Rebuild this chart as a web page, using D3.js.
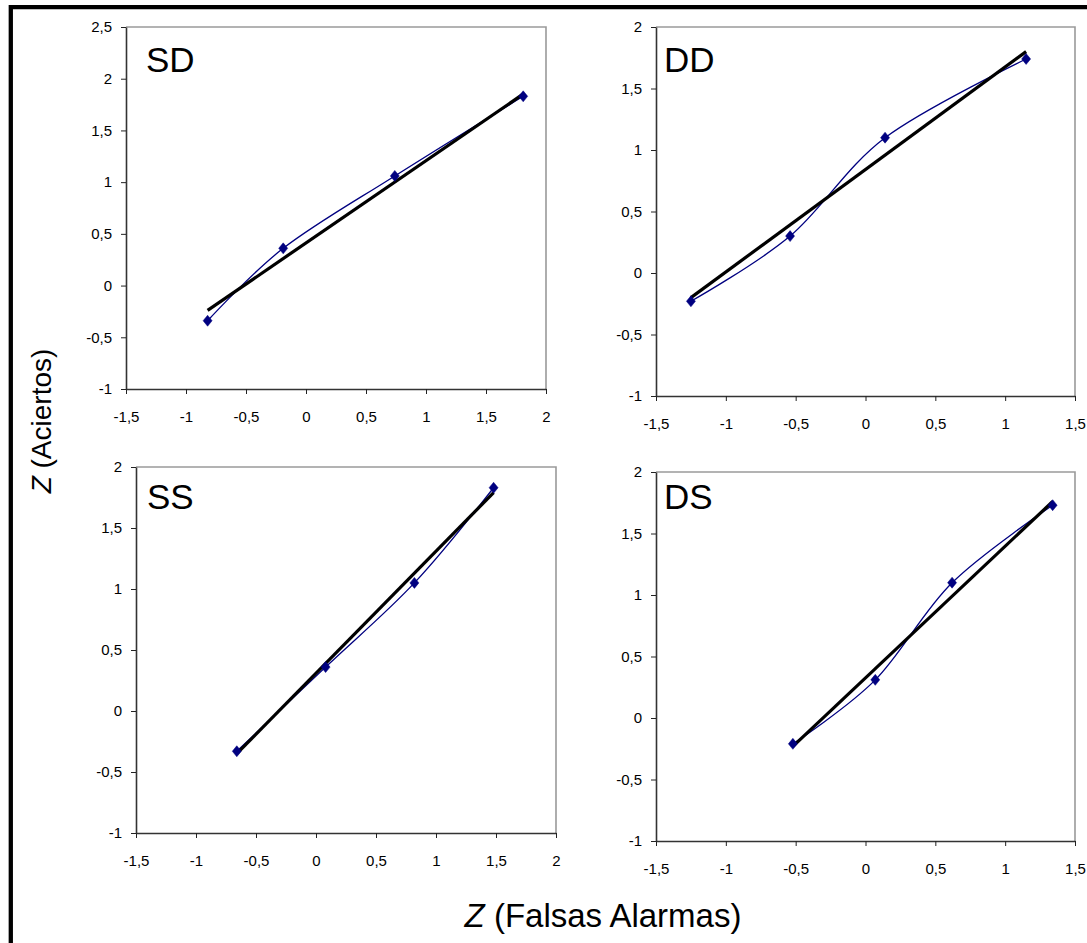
<!DOCTYPE html>
<html>
<head>
<meta charset="utf-8">
<script src="https://cdn.jsdelivr.net/npm/d3@7"></script>
<style>
  html, body { margin: 0; padding: 0; background: #fff; }
  svg { display: block; }
</style>
</head>
<body>
<div id="chart"></div>
<script>
// ---------- DATA ----------
const panelNames = ["SD", "DD", "SS", "DS"];

const sdX = [-0.82, -0.19, 0.74, 1.81];
const sdY = [-0.34, 0.36, 1.06, 1.83];
const sdFitX = [-0.82, 1.82];
const sdFitY = [-0.24, 1.86];

const ddX = [-1.25, -0.54, 0.14, 1.15];
const ddY = [-0.23, 0.30, 1.10, 1.74];
const ddFitX = [-1.25, 1.15];
const ddFitY = [-0.20, 1.80];

const ssX = [-0.66, 0.08, 0.82, 1.48];
const ssY = [-0.33, 0.36, 1.05, 1.83];
const ssFitX = [-0.66, 1.48];
const ssFitY = [-0.35, 1.79];

const dsX = [-0.52, 0.07, 0.62, 1.34];
const dsY = [-0.21, 0.31, 1.10, 1.73];
const dsFitX = [-0.52, 1.34];
const dsFitY = [-0.23, 1.76];

const xTicksWide = [-1.5, -1, -0.5, 0, 0.5, 1, 1.5, 2];
const xTicksNarrow = [-1.5, -1, -0.5, 0, 0.5, 1, 1.5];
const yTicksTall = [-1, -0.5, 0, 0.5, 1, 1.5, 2, 2.5];
const yTicksShort = [-1, -0.5, 0, 0.5, 1, 1.5, 2];

const xTitle = "(Falsas Alarmas)";
const yTitle = "(Aciertos)";

// ---------- LAYOUT ----------
const W = 1087, H = 943;
const panels = [
  { name: panelNames[0], x: sdX, y: sdY, fx: sdFitX, fy: sdFitY, xt: xTicksWide, yt: yTicksTall,
    l: 126, r: 546, t: 27, b: 389, lx: 146, ly: 72 },
  { name: panelNames[1], x: ddX, y: ddY, fx: ddFitX, fy: ddFitY, xt: xTicksNarrow, yt: yTicksShort,
    l: 656, r: 1075, t: 27, b: 396, lx: 664, ly: 72 },
  { name: panelNames[2], x: ssX, y: ssY, fx: ssFitX, fy: ssFitY, xt: xTicksWide, yt: yTicksShort,
    l: 136, r: 556, t: 467, b: 833, lx: 147, ly: 509 },
  { name: panelNames[3], x: dsX, y: dsY, fx: dsFitX, fy: dsFitY, xt: xTicksNarrow, yt: yTicksShort,
    l: 656, r: 1075, t: 472, b: 841, lx: 664, ly: 509 }
];

const fmt = d => String(d).replace(".", ",");
const tickFont = "'Liberation Sans Narrow', 'Arial Narrow', 'Liberation Sans', Arial, sans-serif";
const mainFont = "'Liberation Sans', Arial, Helvetica, sans-serif";

const svg = d3.select("#chart").append("svg")
  .attr("width", W).attr("height", H)
  .attr("viewBox", `0 0 ${W} ${H}`);

svg.append("rect").attr("width", W).attr("height", H).attr("fill", "#fff");

// outer frame (top and left visible)
svg.append("line").attr("x1", 9).attr("x2", W).attr("y1", 7.2).attr("y2", 7.2)
  .attr("stroke", "#000").attr("stroke-width", 4.3);
svg.append("line").attr("x1", 10.8).attr("x2", 10.8).attr("y1", 5).attr("y2", H)
  .attr("stroke", "#000").attr("stroke-width", 4.3);

panels.forEach(p => {
  const xS = d3.scaleLinear().domain([p.xt[0], p.xt[p.xt.length - 1]]).range([p.l, p.r]);
  const yS = d3.scaleLinear().domain([p.yt[0], p.yt[p.yt.length - 1]]).range([p.b, p.t]);
  const g = svg.append("g");

  // plot area border (top/right gray)
  g.append("path")
    .attr("d", `M${xS.range()[0]},${yS.range()[1]}H${xS.range()[1]}V${yS.range()[0]}`)
    .attr("fill", "none").attr("stroke", "#9a9a9a").attr("stroke-width", 1.6);

  // axes
  const ax = g.append("g").attr("transform", `translate(0,${p.b})`)
    .call(d3.axisBottom(xS).tickValues(p.xt).tickFormat(fmt).tickSize(5).tickSizeOuter(0).tickPadding(17));
  const ay = g.append("g").attr("transform", `translate(${p.l},0)`)
    .call(d3.axisLeft(yS).tickValues(p.yt).tickFormat(fmt).tickSize(5).tickSizeOuter(0).tickPadding(9));
  [ax, ay].forEach(a => {
    a.select(".domain").attr("stroke", "#333").attr("stroke-width", 1.6);
    a.selectAll(".tick line").attr("stroke", "#222").attr("stroke-width", 1);
    a.selectAll(".tick text").attr("fill", "#000")
      .style("font-family", tickFont).style("font-size", "15px");
  });

  // smoothed data line
  const pts = p.x.map((v, i) => [v, p.y[i]]);
  const line = d3.line().x(d => xS(d[0])).y(d => yS(d[1])).curve(d3.curveCardinal.tension(0));
  g.append("path").datum(pts).attr("d", line)
    .attr("fill", "none").attr("stroke", "#000080").attr("stroke-width", 1.3);

  // regression line
  const fit = p.fx.map((v, i) => [v, p.fy[i]]);
  g.append("path").datum(fit).attr("d", d3.line().x(d => xS(d[0])).y(d => yS(d[1])))
    .attr("fill", "none").attr("stroke", "#000").attr("stroke-width", 3.2);

  // diamond markers
  g.selectAll("path.mk").data(pts).join("path").attr("class", "mk")
    .attr("d", d => {
      const cx = xS(d[0]), cy = yS(d[1]);
      return `M${cx},${cy - 5.5}L${cx + 4.5},${cy}L${cx},${cy + 5.5}L${cx - 4.5},${cy}Z`;
    })
    .attr("fill", "#000080").attr("stroke", "#000080").attr("stroke-width", 0.5);

  // panel label
  g.append("text").attr("x", p.lx).attr("y", p.ly)
    .style("font-family", mainFont).style("font-size", "35px").attr("fill", "#000")
    .text(p.name);
});

// axis titles
const xt = svg.append("text").attr("x", 603).attr("y", 927).attr("text-anchor", "middle")
  .style("font-family", mainFont).style("font-size", "33px").attr("fill", "#000");
xt.append("tspan").style("font-style", "italic").text("Z");
xt.append("tspan").text(" " + xTitle);

const yt = svg.append("text").attr("transform", "translate(51,421) rotate(-90)")
  .attr("text-anchor", "middle")
  .style("font-family", mainFont).style("font-size", "28px").attr("fill", "#000");
yt.append("tspan").style("font-style", "italic").text("Z");
yt.append("tspan").text(" " + yTitle);
</script>
</body>
</html>
